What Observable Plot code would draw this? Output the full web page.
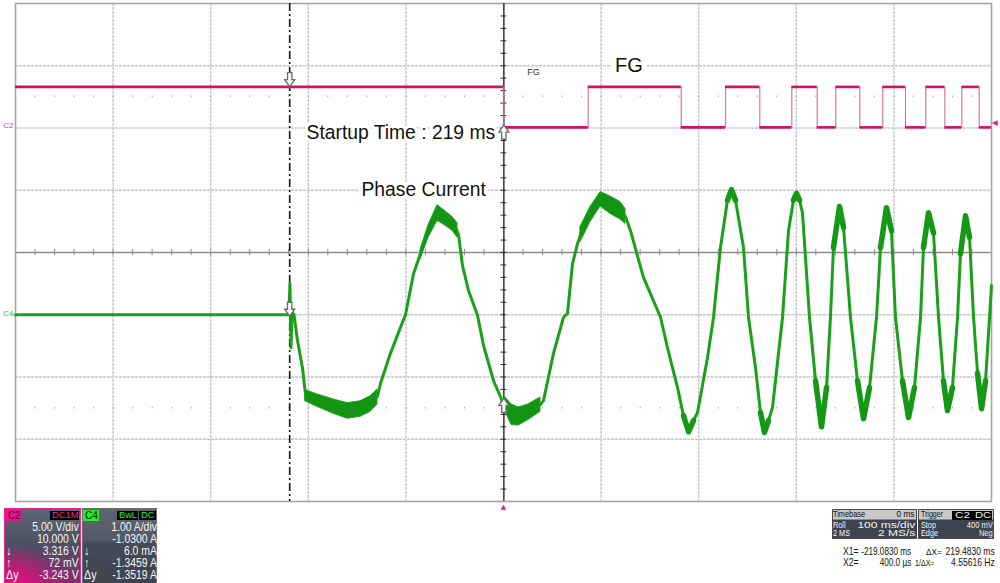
<!DOCTYPE html>
<html><head><meta charset="utf-8">
<script src="https://cdn.jsdelivr.net/npm/d3@7"></script>
<script src="https://cdn.jsdelivr.net/npm/@observablehq/plot@0.6"></script>
<style>
body{margin:0;background:#fff;font-family:"Liberation Sans",Arial,sans-serif;}
#wrap{position:relative;width:1000px;height:583px;overflow:hidden;}
#chart svg{display:block;overflow:visible}
.b{position:absolute;box-sizing:border-box;}
.a{position:absolute;white-space:pre;}
</style></head><body>
<div id="wrap"><div id="chart"></div></div>
<script>
// ---- time base / channel settings ----
const timeDomain = [-500, 500];          // ms, 100 ms/div
const c2VoltsPerDiv = 5, c2Offset = 10;  // V
const c4AmpsPerDiv = 1, c4Offset = -1.03; // A
const triggerLevel = 0.4;                // V
const triggerTime = 0;                   // ms

// ---- cursors ----
const cursorT = [-219.083, 0.4];         // X1, X2 (ms)
const c2Cursor = [3.316, 0.072];         // V at X1, X2
const c4Cursor = [0.006, -1.3459];       // A at X1, X2

// ---- FG (C2) square wave: edge times (ms) and level (V) from each edge ----
const fgT = [-500, 0.4, 86.8, 182.1, 227.5, 262.6, 295.4, 321.4, 340.5, 365.1, 388.6, 411.9, 432.7, 452.2, 469.6, 487.4, 500];
const fgV = [3.3, 0.05, 3.3, 0.05, 3.3, 0.05, 3.3, 0.05, 3.3, 0.05, 3.3, 0.05, 3.3, 0.05, 3.3, 0.05, 0.05];

// ---- Phase current (C4): time (ms), current (A) ----
const phaseT = [-500.0, -219.8, -218.8, -217.7, -216.7, -214.7, -211.1, -206.0, -202.9, -196.7, -187.5, -174.2, -159.8, -146.5, -136.3, -129.1, -126.0, -115.8, -105.5, -100.4,
  -92.2, -83.0, -76.8, -72.7, -67.6, -59.4, -54.3, -48.2, -46.1, -42.0, -35.9, -26.6, -20.5, -10.2, 0.0, 8.2, 15.4, 25.6, 37.9, 41.0,
  51.2, 61.5, 65.6, 70.7, 75.8, 82.0, 89.1, 99.4, 109.6, 119.9, 125.0, 130.1, 143.4, 160.9, 168.0, 178.3, 184.4, 189.6, 194.7, 198.8,
  209.0, 215.2, 222.3, 229.5, 233.6, 237.7, 245.9, 251.0, 258.2, 263.3, 267.4, 271.5, 275.6, 285.9, 292.0, 297.1, 300.2, 303.3, 306.4, 313.5,
  319.7, 325.8, 331.0, 335.0, 338.1, 344.3, 348.4, 355.5, 362.7, 368.9, 375.0, 382.2, 386.3, 392.4, 397.5, 401.6, 408.8, 415.0, 421.1, 427.3,
  430.3, 435.5, 440.6, 445.7, 450.8, 454.9, 460.0, 465.2, 468.2, 473.4, 477.5, 481.6, 485.7, 489.8, 493.9, 498.0, 500.0];
const phaseA = [0.03, 0.03, 0.53, -0.50, 0.07, 0.03, -0.38, -0.82, -1.24, -1.32, -1.38, -1.44, -1.51, -1.48, -1.40, -1.28, -1.07, -0.59, -0.17, 0.03,
  0.69, 1.11, 1.37, 1.53, 1.67, 1.58, 1.50, 1.40, 1.32, 0.82, 0.42, 0.02, -0.46, -1.03, -1.40, -1.57, -1.60, -1.52, -1.41, -1.35,
  -0.59, -0.01, 0.05, 0.85, 1.17, 1.46, 1.64, 1.88, 1.80, 1.70, 1.61, 1.38, 0.63, -0.01, -0.50, -1.14, -1.59, -1.85, -1.67, -1.54,
  -0.66, -0.01, 1.11, 1.87, 2.04, 1.87, 1.11, -0.01, -0.82, -1.54, -1.86, -1.67, -1.46, -0.01, 1.38, 1.87, 1.98, 1.87, 1.66, -0.01,
  -1.03, -1.77, -1.14, -0.01, 1.11, 1.77, 1.43, -0.01, -1.03, -1.64, -1.14, -0.01, 1.11, 1.75, 1.38, -0.01, -1.03, -1.62, -1.14, -0.01,
  1.11, 1.67, 1.34, -0.01, -1.03, -1.51, -1.14, -0.01, 1.01, 1.62, 1.27, -0.01, -0.91, -1.48, -1.03, -0.01, 0.50];

// ---- ripple envelope (thick parts of the current trace) ----
const bandSeg = [1, 1, 1, 1, 1, 1, 1, 2, 2, 2, 2, 2, 2, 3, 3, 3, 3, 3, 4, 4, 4, 4, 4, 4];
const bandT  = [-202.9, -190.6, -174.2, -159.8, -146.5, -136.3, -129.1, -85.0, -76.8, -67.6, -59.4, -52.3, -47.1, 2.0, 8.2, 15.4, 25.6, 37.9, 78.9, 89.1, 99.4, 109.6, 119.9, 125.0];
const bandLo = [-1.36, -1.45, -1.56, -1.64, -1.61, -1.53, -1.41, 0.92, 1.27, 1.54, 1.46, 1.38, 1.27, -1.53, -1.74, -1.75, -1.66, -1.53, 1.20, 1.52, 1.77, 1.65, 1.56, 1.49];
const bandHi = [-1.18, -1.25, -1.33, -1.39, -1.36, -1.28, -1.17, 1.07, 1.47, 1.79, 1.69, 1.60, 1.50, -1.30, -1.41, -1.46, -1.41, -1.30, 1.44, 1.76, 2.00, 1.93, 1.84, 1.73];
// times of the later peaks / troughs where the trace thickens
const blobT = [189.6, 233.6, 267.4, 300.2, 325.8, 344.3, 368.9, 392.4, 415.0, 435.5, 454.9, 473.4, 489.8];

// ---- readouts ----
const c2Rows = ["5.00 V/div", "10.000 V", "3.316 V", "72 mV", "-3.243 V"];
const c4Rows = ["1.00 A/div", "-1.0300 A", "6.0 mA", "-1.3459 A", "-1.3519 A"];
const rowSyms = ["↓", "↑", "Δy"];
const timebaseRows = [["Timebase", "0 ms"], ["Roll", "100 ms/div"], ["2 MS", "2 MS/s"]];
const triggerRows = [["Trigger", ""], ["Stop", "400 mV"], ["Edge", "Neg"]];
const triggerTags = ["C2", "DC"];
const cursorLines = [["X1=", "-219.0830 ms", "ΔX=", "219.4830 ms"], ["X2=", "400.0 µs", "1/ΔX=", "4.55616 Hz"]];

// ---- conversions to screen divisions ----
const c2div = v => (v + c2Offset) / c2VoltsPerDiv;
const c4div = a => (a + c4Offset) / c4AmpsPerDiv;

const phase = phaseT.map((t, i) => ({t, d: c4div(phaseA[i])}));
const band = bandT.map((t, i) => ({t, seg: bandSeg[i], lo: c4div(bandLo[i]), hi: c4div(bandHi[i])}));
const blobs = blobT.flatMap((bt, k) => {
  const i = phaseT.indexOf(bt);
  return [i - 1, i, i + 1].map(j => ({t: phaseT[j], d: c4div(phaseA[j]), k}));
});
const fg = fgT.map((t, i) => ({t, d: c2div(fgV[i])}));
const fgSeg = fgT.slice(0, -1).map((t, i) => ({x1: t, x2: fgT[i + 1], y: c2div(fgV[i])}));
const deltaX = cursorT[1] - cursorT[0];

const minorX = d3.range(timeDomain[0] + 20, timeDomain[1], 20);
const minorY = d3.range(-3.8, 4, 0.2);
const FONT = "Liberation Sans, Arial, sans-serif";
const MAG = "#cf1464", GREEN = "#1aa11a";

const arrow = dir => ({draw(ctx, size) {
  const u = Math.sqrt(size / Math.PI) / 7 * dir;
  ctx.moveTo(-2.2 * u, -7 * u); ctx.lineTo(2.2 * u, -7 * u); ctx.lineTo(2.2 * u, 0);
  ctx.lineTo(5 * u, 0); ctx.lineTo(0, 7 * u); ctx.lineTo(-5 * u, 0); ctx.lineTo(-2.2 * u, 0); ctx.closePath();
}});
const arrowOpts = {r: 7, fill: "#fafafa", stroke: "#6a6a6a", strokeWidth: 1.3};

const chart = Plot.plot({
  width: 1000, height: 505,
  marginLeft: 15, marginRight: 9, marginTop: 3, marginBottom: 4,
  x: {domain: timeDomain, axis: null},
  y: {domain: [-4, 4], axis: null},
  marks: [
    Plot.ruleX(d3.range(-400, 500, 100), {stroke: "#c6c6c6", strokeWidth: 1.4, strokeDasharray: "3,1"}),
    Plot.ruleY([-3, -2, -1, 1, 2, 3], {stroke: "#c6c6c6", strokeWidth: 1.4, strokeDasharray: "3,1"}),
    Plot.ruleY([0], {stroke: "#8c8c8c", strokeWidth: 1.3}),
    Plot.ruleX(minorX, {y1: -0.05, y2: 0.05, stroke: "#8c8c8c", strokeWidth: 1}),
    Plot.ruleX(minorX, {y1: 2.485, y2: 2.515, stroke: "#aaa", strokeWidth: 1}),
    Plot.ruleX(minorX, {y1: -2.515, y2: -2.485, stroke: "#aaa", strokeWidth: 1}),
    Plot.ruleY(minorY, {x1: cursorT[1] - 3, x2: cursorT[1] + 3, stroke: "#333", strokeWidth: 1}),
    Plot.frame({stroke: "#a6a6a6", strokeWidth: 1.6}),
    // cursors
    Plot.ruleX([cursorT[1]], {stroke: "#222", strokeWidth: 1.3}),
    Plot.ruleX([cursorT[0]], {stroke: "#111", strokeWidth: 1.6, strokeDasharray: "8,3,2,3"}),
    // FG trace
    Plot.line(fg, {x: "t", y: "d", curve: "step-after", stroke: "#d77aa3", strokeWidth: 1.2}),
    Plot.ruleY(fgSeg, {x1: "x1", x2: "x2", y: "y", stroke: MAG, strokeWidth: 2.6}),
    // phase current
    Plot.line(phase, {x: "t", y: "d", stroke: GREEN, strokeWidth: 3, strokeLinejoin: "round"}),
    Plot.line(blobs, {x: "t", y: "d", z: "k", stroke: "#159815", strokeWidth: 5.5, strokeLinejoin: "round", strokeLinecap: "round"}),
    Plot.areaY(band, {x: "t", y1: "lo", y2: "hi", z: "seg", fill: "#139413", stroke: "#1aa61a", strokeWidth: 1}),
    // channel markers / trigger markers
    Plot.text(["C2"], {x: timeDomain[0], y: c2div(0), dx: -2, dy: -3, textAnchor: "end", fontSize: 8, fill: "#e0408a", fontFamily: FONT}),
    Plot.text(["C4"], {x: timeDomain[0], y: c4div(0), dx: -2, dy: -3, textAnchor: "end", fontSize: 8, fill: "#2ccc2c", fontFamily: FONT}),
    Plot.text(["◀"], {x: timeDomain[1], y: c2div(triggerLevel), dx: 0.5, textAnchor: "start", fontSize: 7.5, fill: "#e0207a", fontFamily: "DejaVu Sans"}),
    Plot.text(["▲"], {x: triggerTime, y: -4, dy: 5, fontSize: 7, fill: "#e0207a", fontFamily: "DejaVu Sans"}),
    // cursor arrows
    Plot.dot([0], {x: cursorT[0], y: c2div(c2Cursor[0]), symbol: arrow(1), dy: -7, ...arrowOpts}),
    Plot.dot([0], {x: cursorT[0], y: c4div(c4Cursor[0]), symbol: arrow(1), dy: -7, ...arrowOpts}),
    Plot.dot([0], {x: cursorT[1], y: c2div(c2Cursor[1]), symbol: arrow(-1), dy: 5, ...arrowOpts}),
    Plot.dot([0], {x: cursorT[1], y: c4div(c4Cursor[1]), symbol: arrow(-1), dy: 5, ...arrowOpts}),
    // annotations
    Plot.text([`Startup Time : ${Math.round(deltaX)} ms`], {x: -201.8, y: 1.92, textAnchor: "start", fontSize: 19.3, fill: "#111", fontFamily: FONT, stroke: "#fff", strokeWidth: 6}),
    Plot.text(["Phase Current"], {x: -145.5, y: 1.0, textAnchor: "start", fontSize: 19.3, fill: "#111", fontFamily: FONT, stroke: "#fff", strokeWidth: 8}),
    Plot.text(["FG"], {x: 128.6, y: 3.0, fontSize: 20, fill: "#111", fontFamily: FONT, stroke: "#fff", strokeWidth: 10}),
    Plot.text(["FG"], {x: 30.7, y: 2.89, fontSize: 9, fill: "#333", fontFamily: FONT})
  ]
});
const wrap = document.getElementById("wrap");
document.getElementById("chart").appendChild(chart);

// ---- bottom readout panels (HTML) ----
function box(x1, y1, x2, y2, css) {
  const el = document.createElement("div");
  el.className = "b";
  el.style.cssText += `left:${x1}px;top:${y1}px;width:${x2 - x1}px;height:${y2 - y1}px;${css}`;
  wrap.appendChild(el);
}
// text block (one or more lines) fitted horizontally between x1 and x2
function txt(lines, x1, x2, cyFirst, fs, lh, color, align = "left") {
  const el = document.createElement("div");
  el.className = "a";
  el.textContent = [].concat(lines).join("\n");
  el.style.cssText += `left:${x1}px;top:${cyFirst - lh / 2}px;font-size:${fs}px;line-height:${lh}px;color:${color};text-align:${align};`;
  wrap.appendChild(el);
  const w = el.getBoundingClientRect().width;
  if (align === "right") {
    el.style.left = `${x2 - w}px`;
    el.style.transformOrigin = "right center";
  } else el.style.transformOrigin = "left center";
  el.style.transform = `scaleX(${(x2 - x1) / w})`;
}

// C2 panel
box(4, 508, 81, 586, "border:1.5px solid #e8288a;background:radial-gradient(ellipse 95% 55% at 0% 100%, #e0107f 0%, rgba(212,20,124,.85) 40%, rgba(150,40,110,.25) 85%, rgba(90,60,90,0) 100%), linear-gradient(#5c6574, #4c5262 45%, #6e3a6a 80%, #8a2a72);");
box(5.5, 509.5, 21.7, 520.5, "background:#ea1490");
txt("C2", 7.5, 19.7, 515, 10.5, 10, "#2a0616");
box(50, 510.5, 79.2, 519.5, "background:#000");
txt("DC1M", 51.5, 78, 515, 9.5, 8.5, "#ea2a8e");
txt(c2Rows, 32.5, 78.8, 528.3, 12.5, 11.85, "#f4f4f4", "right");
txt(rowSyms, 5.5, 18, 552.3, 12.5, 11.85, "#f4f4f4");
// C4 panel
box(81.7, 508, 157.5, 586, "border:1.5px solid #6e6e6e;background:linear-gradient(#5e6672, #535a66 40%, #454b57 45%, #3e434e);");
box(83, 509.5, 99, 520.5, "background:#22f022");
txt("C4", 84.5, 97.5, 515, 10.5, 10, "#000");
box(117, 510.5, 137.7, 519.5, "background:#000");
txt("BwL", 118.5, 136.5, 515, 9.5, 8.5, "#2af02a");
box(139, 510.5, 156.3, 519.5, "background:#000");
txt("DC", 141, 154.5, 515, 9.5, 8.5, "#2af02a");
txt(c4Rows, 111, 156.7, 528.3, 12.5, 11.85, "#f4f4f4", "right");
txt(rowSyms, 83.5, 96, 552.3, 12.5, 11.85, "#f4f4f4");

// Timebase & Trigger panels
box(831.7, 509, 917, 538.5, "border:1px solid #4a4a4a;background:#3d4450;");
box(832.5, 510, 916.2, 520.3, "background:#c8c8c8;border-bottom:1px solid #888");
box(918, 509, 993.5, 538.5, "border:1px solid #4a4a4a;background:#3d4450;");
box(918.8, 510, 992.7, 520.3, "background:#c8c8c8;border-bottom:1px solid #888");
box(952, 510.7, 971.5, 519.6, "background:#000");
box(972.3, 510.7, 992.5, 519.6, "background:#000");
// headers
txt(timebaseRows[0][0], 833, 865, 514.6, 9, 9, "#111");
txt(timebaseRows[0][1], 897, 915, 514.6, 9, 9, "#111", "right");
txt(triggerRows[0][0], 921, 943, 514.6, 9, 9, "#111");
txt(triggerTags[0], 954.5, 969.5, 515, 8.5, 8, "#f0f0f0");
txt(triggerTags[1], 974.5, 990.5, 515, 8.5, 8, "#f0f0f0");
// rows
txt(timebaseRows.slice(1).map(r => r[0]), 833, 850, 525, 9.8, 8.6, "#f2f2f2");
txt(timebaseRows.slice(1).map(r => r[1]), 857, 915, 525, 9.8, 8.6, "#f2f2f2", "right");
txt(triggerRows.slice(1).map(r => r[0]), 921, 938, 525, 9.8, 8.6, "#f2f2f2");
txt(triggerRows.slice(1).map(r => r[1]), 967, 993, 525, 9.8, 8.6, "#f2f2f2", "right");

// cursor readout lines
txt(cursorLines.map(l => l[0]), 842.7, 858.3, 551.7, 10.5, 11, "#111");
txt(cursorLines.map(l => l[1]), 861.7, 911.7, 551.7, 10.5, 11, "#111", "right");
txt(cursorLines[0][2], 926, 941.7, 551.7, 9.6, 11, "#111");
txt(cursorLines[1][2], 914.5, 934, 562.7, 9.6, 11, "#111");
txt(cursorLines.map(l => l[3]), 945.7, 995, 551.7, 10.5, 11, "#111", "right");
</script>
</body></html>
